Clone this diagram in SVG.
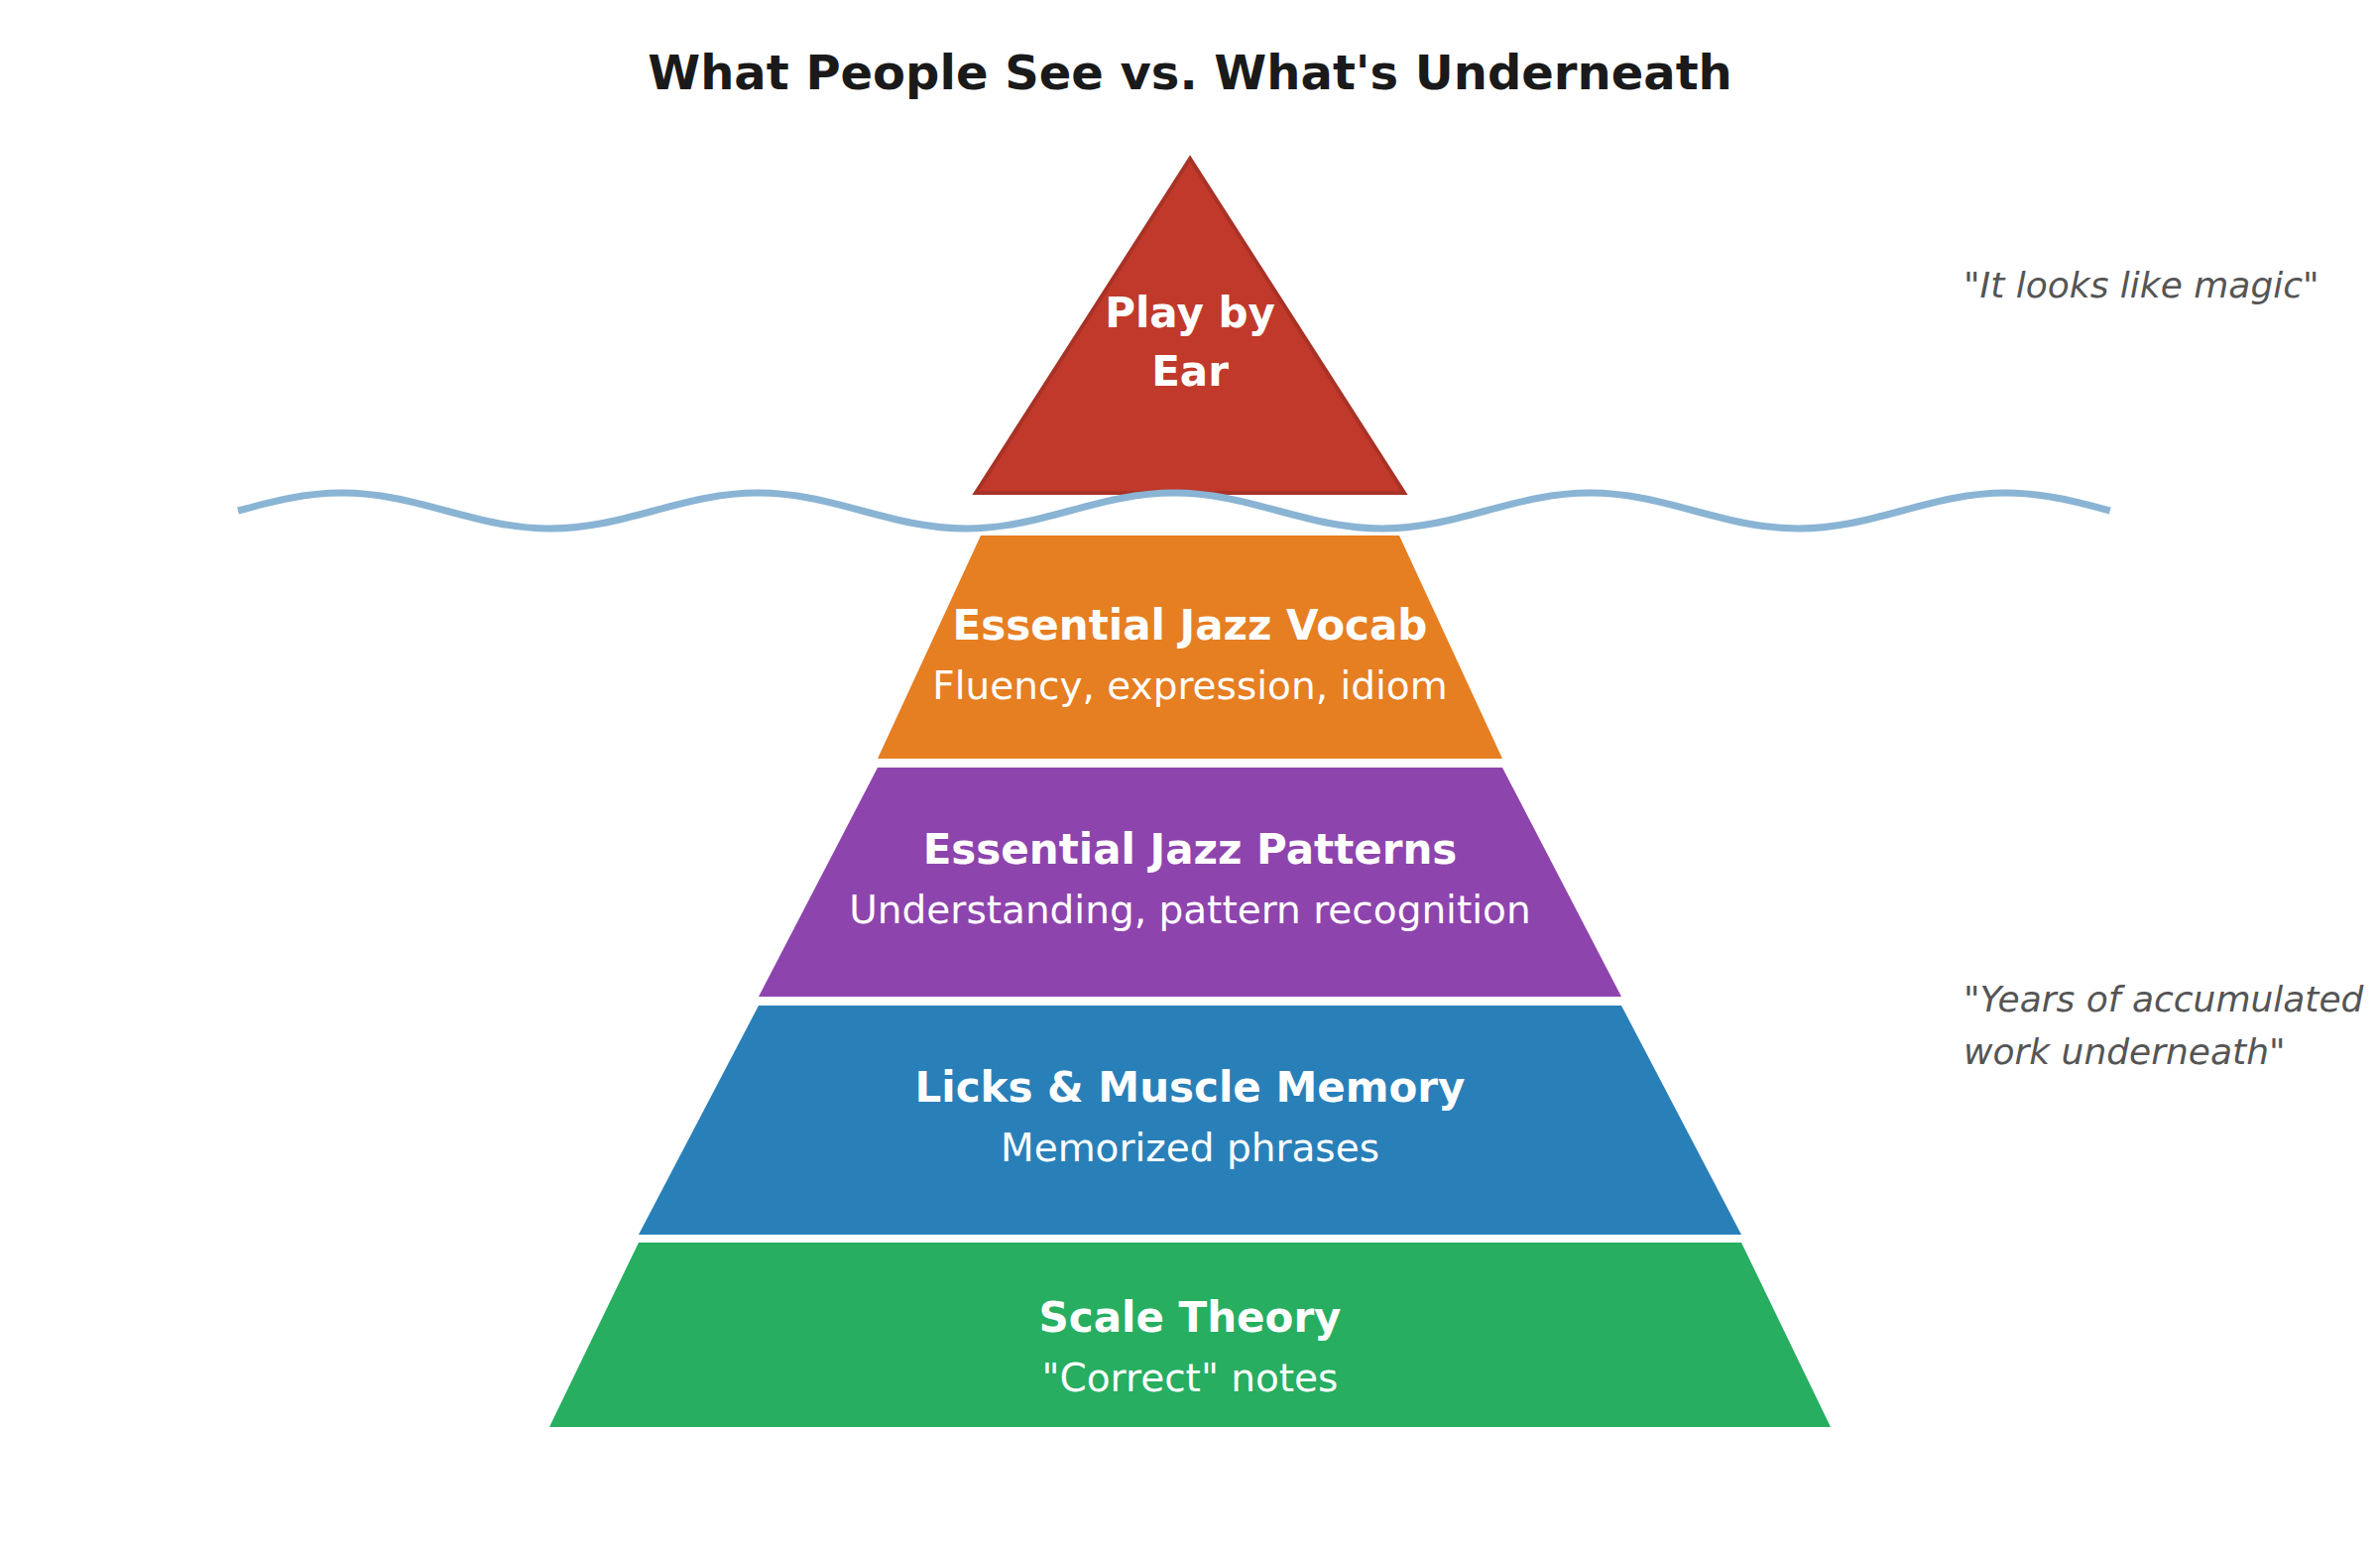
<svg xmlns="http://www.w3.org/2000/svg" width="2400" height="1560" viewBox="0 0 2400 1560">
<style>
text{font-family:"DejaVu Sans","Liberation Sans",sans-serif;}
.title{font-size:48px;font-weight:bold;fill:#1a1a1a;text-anchor:middle;}
.lbl{font-size:42px;font-weight:bold;fill:#ffffff;text-anchor:middle;}
.top{font-size:42px;font-weight:bold;fill:#ffffff;text-anchor:middle;}
.sub{font-size:39px;fill:#ffffff;text-anchor:middle;}
.note{font-size:36px;font-style:italic;fill:#555555;}
.wave{fill:none;stroke:#8ab4d4;stroke-width:7;}
</style>
<rect x="0" y="0" width="2400" height="1560" fill="#ffffff"/>
<text class="title" x="1200" y="90">What People See vs. What's Underneath</text>
<g id="node-play-by-ear">
<polygon points="1200,160 984,497 1416,497" fill="#c0392b" stroke="#a93226" stroke-width="4" stroke-linejoin="miter"/>
<text class="top" x="1200" y="330">Play by</text>
<text class="top" x="1200" y="389">Ear</text>
</g>
<g id="node-vocab">
<polygon points="989,540 1411,540 1515,765 885,765" fill="#e67e22"/>
<text class="lbl" x="1200" y="645">Essential Jazz Vocab</text>
<text class="sub" x="1200" y="705">Fluency, expression, idiom</text>
</g>
<g id="node-patterns">
<polygon points="885,774 1515,774 1635,1005 765,1005" fill="#8e44ad"/>
<text class="lbl" x="1200" y="871">Essential Jazz Patterns</text>
<text class="sub" x="1200" y="931">Understanding, pattern recognition</text>
</g>
<g id="node-licks">
<polygon points="765,1014 1635,1014 1756,1245 644,1245" fill="#2980b9"/>
<text class="lbl" x="1200" y="1111">Licks &amp; Muscle Memory</text>
<text class="sub" x="1200" y="1171">Memorized phrases</text>
</g>
<g id="node-scale">
<polygon points="644,1253 1756,1253 1846,1439 554,1439" fill="#27ae60"/>
<text class="lbl" x="1200" y="1343">Scale Theory</text>
<text class="sub" x="1200" y="1403">"Correct" notes</text>
</g>
<g id="connectors">
<path class="wave" d="M240,515 c35.06,-9.45 67.13,-18 104.875,-18 c37.74,0 69.82,8.55 104.875,18 c35.06,9.45 67.13,18 104.875,18 c37.74,0 69.82,-8.55 104.875,-18 c35.06,-9.45 67.13,-18 104.875,-18 c37.74,0 69.82,8.55 104.875,18 c35.06,9.45 67.13,18 104.875,18 c37.74,0 69.82,-8.55 104.875,-18 c35.06,-9.45 67.13,-18 104.875,-18 c37.74,0 69.82,8.55 104.875,18 c35.06,9.45 67.13,18 104.875,18 c37.74,0 69.82,-8.55 104.875,-18 c35.06,-9.45 67.13,-18 104.875,-18 c37.74,0 69.82,8.55 104.875,18 c35.06,9.45 67.13,18 104.875,18 c37.74,0 69.82,-8.55 104.875,-18 c35.06,-9.45 67.13,-18 104.875,-18 c37.74,0 69.82,8.55 104.875,18"/>
</g>
<g id="notes">
<text class="note" x="1980" y="300">"It looks like magic"</text>
<text class="note" x="1980" y="1020">"Years of accumulated</text>
<text class="note" x="1980" y="1073">work underneath"</text>
</g>
</svg>
